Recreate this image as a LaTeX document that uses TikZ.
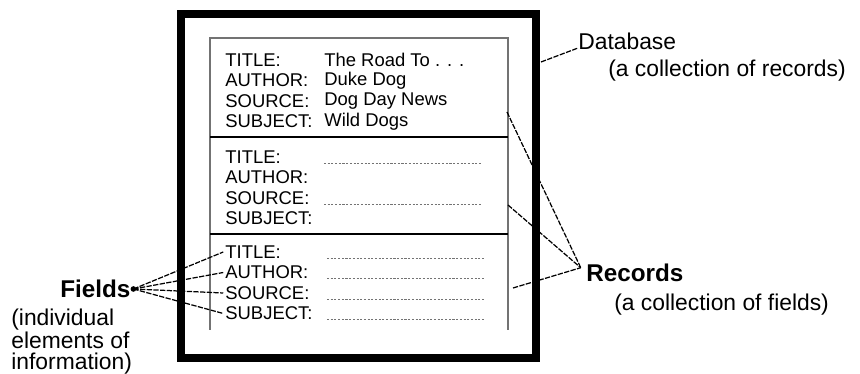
\documentclass[tikz,border=0pt]{standalone}
\usepackage{fontspec}
\setmainfont{Liberation Sans}
\usetikzlibrary{positioning}
\begin{document}
\begin{tikzpicture}[x=0.02cm,y=-0.02cm,
    fld/.style={anchor=west,inner sep=0pt,font=\fontsize{10.5}{12}\selectfont},
    blank/.style={draw=black!55,dash pattern=on 1.2pt off 0.9pt,line width=0.6pt},
    lead/.style={draw=black,dash pattern=on 3pt off 0.8pt,line width=0.7pt},
    lbl/.style={anchor=west,inner sep=0pt,font=\fontsize{13}{13}\selectfont},
    bold lbl/.style={lbl,font=\fontsize{13.8}{13.8}\selectfont\bfseries}]
    \useasboundingbox (0,0) rectangle (860,374);
    % database frame
    \draw[line width=4pt] (181,14) rectangle (536,358);
    % records
    \draw[black!55,line width=0.6pt] (210,330) -- (210,38) -- (508,38) -- (508,330);
    \draw[line width=1pt] (210,137) -- (508,137);
    \draw[line width=1pt] (210,234) -- (508,234);
    % field names
    \foreach \r/\y in {1/60,2/157,3/252} {
      \node[fld] (t\r) at (225,\y)      {TITLE:};
      \node[fld] (a\r) at (225,\y+20.5) {AUTHOR:};
      \node[fld] (s\r) at (225,\y+41)   {SOURCE:};
      \node[fld] (j\r) at (225,\y+61.5) {SUBJECT:};
    }
    % filled record
    \node[fld] (tv) at (324,60)    {The Road To . . .};
    \node[fld] (av) at (324,80.5)  {Duke Dog};
    \node[fld] (sv) at (324,101)   {Dog Day News};
    \node[fld] (jv) at (324,121.5) {Wild Dogs};
    % empty values
    \draw[blank] (324,0|-t2.base) -- (482,0|-t2.base);
    \draw[blank] (324,0|-s2.base) -- (482,0|-s2.base);
    \foreach \f in {t,a,s,j}
      \draw[blank] (327,0|-\f3.base) -- (485,0|-\f3.base);
    % labels
    \node[lbl] (db) at (578,41) {Database};
    \node[lbl] (dbnote) at (608,71) {(a collection of records)};
    \node[bold lbl] (rc) at (586,273) {Records};
    \node[lbl] (rcnote) at (614,305) {(a collection of fields)};
    \node[bold lbl] (fd) at (60,289) {Fields};
    \node[lbl,align=left,anchor=north west,font=\fontsize{13}{11.8}\selectfont] (fdnote) at (11,309) {(individual\\elements of\\information)};
    % connectors
    \coordinate (dbfoot) at (541,62);
    \coordinate (r1) at (507,112);
    \coordinate (r2) at (508,205);
    \coordinate (r3) at (513,288);
    \coordinate (rchub) at ([xshift=-3pt,yshift=3pt]rc.west);
    \draw[lead] (dbfoot) -- ([yshift=-4pt]db.west);
    \foreach \c in {r1,r2,r3}
      \draw[lead] (\c) -- (rchub);
    \fill (fd.east) ++(1.5pt,0) coordinate (fdhub) circle (1.6pt);
    \foreach \f in {t3,a3,s3,j3}
      \draw[lead] (fdhub) -- ([xshift=-1pt]\f.west);
\end{tikzpicture}
\end{document}
